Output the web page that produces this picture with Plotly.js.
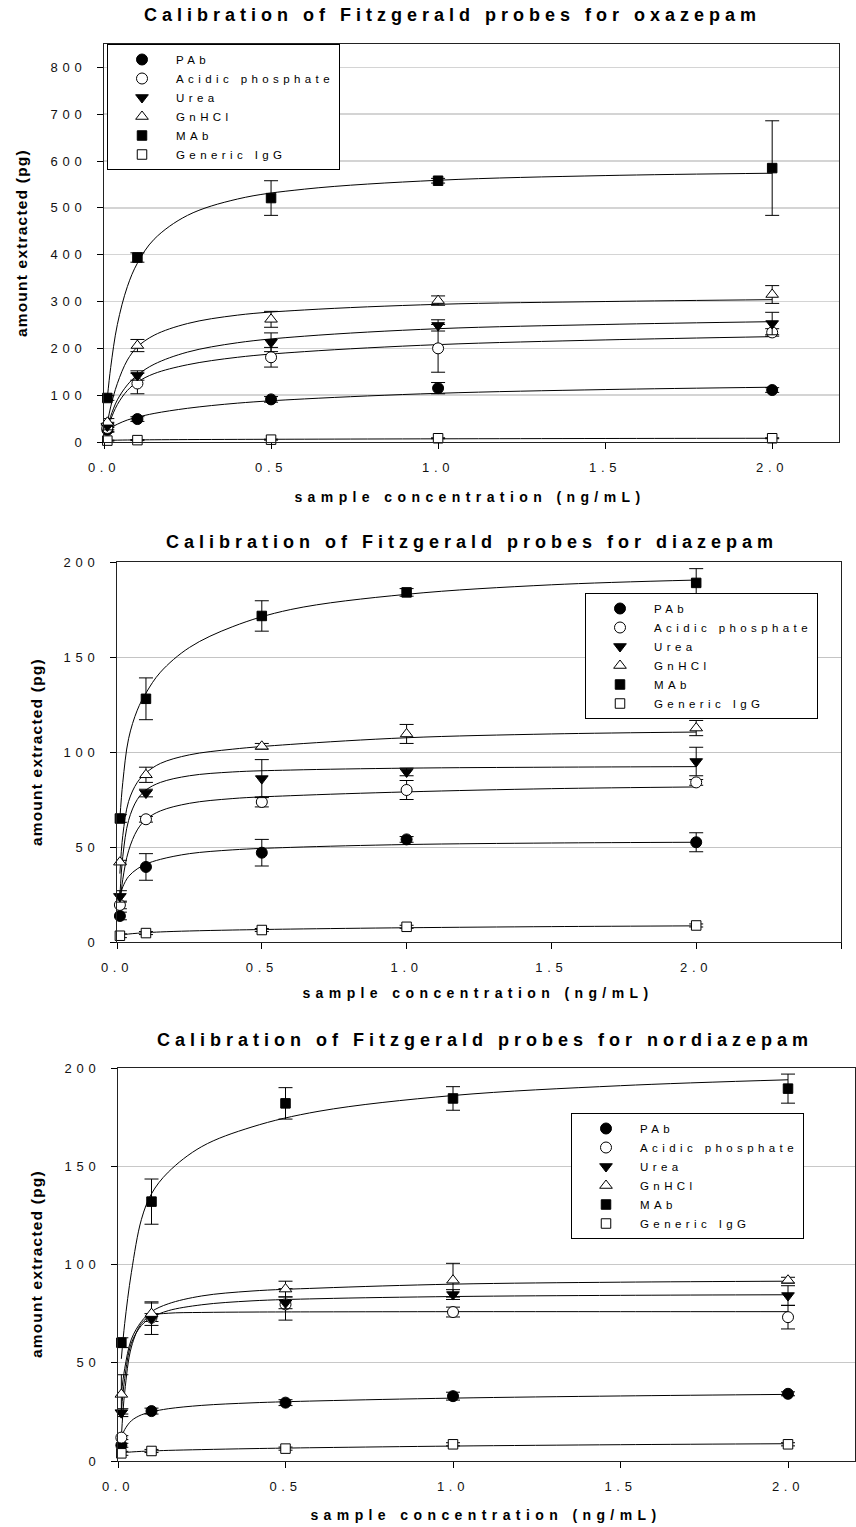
<!DOCTYPE html>
<html><head><meta charset="utf-8">
<script src="https://cdn.plot.ly/plotly-3.0.1.min.js"></script>
<style>
body{margin:0;background:#fff}
#chart{width:856px;height:1527px}
.annotation-text{letter-spacing:5px}
g.annotation[data-index="1"] .annotation-text,g.annotation[data-index="3"] .annotation-text,g.annotation[data-index="5"] .annotation-text{letter-spacing:5.4px}
g.annotation[data-index="6"] .annotation-text,g.annotation[data-index="7"] .annotation-text,g.annotation[data-index="8"] .annotation-text{letter-spacing:1.2px}
.xtick text,.x2tick text,.x3tick text,.ytick text,.y2tick text,.y3tick text{letter-spacing:4.7px}
</style></head>
<body><div id="chart"></div>
<script>
// ---- data ----
const seriesNames = ['PAb', 'Acidic phosphate', 'Urea', 'GnHCl', 'MAb', 'Generic IgG'];
const conc = [0.01, 0.1, 0.5, 1.0, 2.0];            // sample concentration (ng/mL)
const fitX = [0.01, 0.02, 0.04, 0.07, 0.1, 0.15, 0.25, 0.4, 0.6, 1.0, 1.5, 2.0];
const xTicks = [0, 0.5, 1.0, 1.5, 2.0, 2.5];

// oxazepam
const oxa_PAb = [26, 49, 91, 115, 111];       const oxa_PAb_err = [5, 5, 6, 12, 5];
const oxa_Acid = [30, 125, 181, 200, 234];    const oxa_Acid_err = [8, 22, 21, 51, 8];
const oxa_Urea = [34, 142, 213, 249, 253];    const oxa_Urea_err = [8, 10, 20, 12, 24];
const oxa_GnHCl = [42, 206, 262, 302, 315];   const oxa_GnHCl_err = [8, 13, 17, 10, 19];
const oxa_MAb = [94, 394, 521, 558, 585];     const oxa_MAb_err = [5, 10, 37, 5, 101];
const oxa_IgG = [3, 4, 5, 8, 8];              const oxa_IgG_err = [1, 1, 1, 1, 1];
const oxa_PAb_fit = [24, 30, 38, 47, 53, 61, 72, 83, 92, 104, 112, 117];
const oxa_Acid_fit = [28, 48, 80, 110, 128, 146, 165, 181, 193, 208, 218, 225];
const oxa_Urea_fit = [32, 55, 90, 122, 143, 166, 192, 212, 226, 242, 251, 257];
const oxa_GnHCl_fit = [40, 75, 125, 175, 203, 228, 253, 271, 282, 294, 300, 304];
const oxa_MAb_fit = [94, 159, 251, 332, 382, 433, 484, 519, 540, 559, 569, 574];
const oxa_IgG_fit = [3, 3.5, 4, 4.3, 4.5, 4.8, 5.2, 5.6, 6, 6.8, 7.5, 8];

// diazepam
const dia_PAb = [13.7, 39.5, 47, 54, 52.5];   const dia_PAb_err = [2, 7, 7, 1.5, 5];
const dia_Acid = [19.5, 64.6, 73.7, 80, 84];  const dia_Acid_err = [2, 1.5, 2.6, 5, 1.5];
const dia_Urea = [24, 78.4, 86, 89.5, 95];    const dia_Urea_err = [3, 2, 10, 2, 7.5];
const dia_GnHCl = [42, 88, 103, 109.5, 112.6];const dia_GnHCl_err = [1, 4, 1.5, 5, 4];
const dia_MAb = [65, 128, 171.6, 184, 189];   const dia_MAb_err = [2, 11, 8, 2, 7.5];
const dia_IgG = [3.3, 4.7, 6.3, 8, 8.7];      const dia_IgG_err = [1, 0.8, 0.8, 0.8, 0.8];
const dia_PAb_fit = [24, 29, 34.5, 38.5, 41, 43.5, 46.5, 48.5, 49.8, 51.3, 52.1, 52.5];
const dia_Acid_fit = [19.5, 33, 48, 59, 64.5, 69, 73, 75.5, 77, 79, 80.7, 81.6];
const dia_Urea_fit = [24, 45, 64, 75, 80, 84, 87.5, 89.5, 90.5, 91.5, 92, 92.3];
const dia_GnHCl_fit = [36, 56, 74, 84, 89, 94, 98.5, 101.5, 104, 107.5, 109.5, 110.5];
const dia_MAb_fit = [65, 84, 107, 122, 131, 142, 155, 166, 175, 183, 188, 190.5];
const dia_IgG_fit = [3.5, 3.8, 4.2, 4.6, 4.9, 5.3, 5.8, 6.3, 6.8, 7.5, 8.1, 8.5];

// nordiazepam
const nor_PAb = [8, 25.4, 29.7, 33, 34.2];    const nor_PAb_err = [1, 1.5, 1.5, 2, 1];
const nor_Acid = [11.9, 73, 79.7, 75.8, 73.2];const nor_Acid_err = [1, 2, 8, 2.5, 6];
const nor_Urea = [24.6, 72.4, 80.5, 84.7, 84.2]; const nor_Urea_err = [2, 8, 3, 2.5, 5];
const nor_GnHCl = [33.9, 75, 87.5, 92, 92];   const nor_GnHCl_err = [10, 6, 4, 8.6, 1.5];
const nor_MAb = [60.2, 132, 182, 184.5, 189.5]; const nor_MAb_err = [2.5, 11.5, 8, 6, 7.4];
const nor_IgG = [3.9, 5.1, 6.3, 8.5, 8.5];    const nor_IgG_err = [1, 0.8, 0.8, 0.8, 0.8];
const nor_PAb_fit = [12, 16, 20.5, 23.5, 25, 26.6, 28.3, 29.6, 30.6, 32, 33.1, 33.9];
const nor_Acid_fit = [12, 35, 58, 70, 74, 75.2, 75.6, 75.8, 75.9, 76, 76, 76];
const nor_Urea_fit = [25, 42, 60, 69, 73, 76.5, 79.5, 81.5, 82.6, 83.7, 84.3, 84.6];
const nor_GnHCl_fit = [34, 47, 62, 71, 76, 80, 84, 86.5, 88, 90, 91, 91.5];
const nor_MAb_fit = [52, 70, 96, 123, 136, 147, 160, 170, 178, 186, 191, 194];
const nor_IgG_fit = [4, 4.3, 4.6, 4.9, 5.1, 5.4, 5.8, 6.3, 6.8, 7.6, 8.3, 8.8];

const titles = ['Calibration of Fitzgerald probes for oxazepam',
                'Calibration of Fitzgerald probes for diazepam',
                'Calibration of Fitzgerald probes for nordiazepam'];
const xTitle = 'sample concentration (ng/mL)';
const yTitle = 'amount extracted (pg)';

// ---- build ----
const panels = [
  {xa: 'x', ya: 'y', lg: 'legend',
   ys: [oxa_PAb, oxa_Acid, oxa_Urea, oxa_GnHCl, oxa_MAb, oxa_IgG],
   es: [oxa_PAb_err, oxa_Acid_err, oxa_Urea_err, oxa_GnHCl_err, oxa_MAb_err, oxa_IgG_err],
   fs: [oxa_PAb_fit, oxa_Acid_fit, oxa_Urea_fit, oxa_GnHCl_fit, oxa_MAb_fit, oxa_IgG_fit]},
  {xa: 'x2', ya: 'y2', lg: 'legend2',
   ys: [dia_PAb, dia_Acid, dia_Urea, dia_GnHCl, dia_MAb, dia_IgG],
   es: [dia_PAb_err, dia_Acid_err, dia_Urea_err, dia_GnHCl_err, dia_MAb_err, dia_IgG_err],
   fs: [dia_PAb_fit, dia_Acid_fit, dia_Urea_fit, dia_GnHCl_fit, dia_MAb_fit, dia_IgG_fit]},
  {xa: 'x3', ya: 'y3', lg: 'legend3',
   ys: [nor_PAb, nor_Acid, nor_Urea, nor_GnHCl, nor_MAb, nor_IgG],
   es: [nor_PAb_err, nor_Acid_err, nor_Urea_err, nor_GnHCl_err, nor_MAb_err, nor_IgG_err],
   fs: [nor_PAb_fit, nor_Acid_fit, nor_Urea_fit, nor_GnHCl_fit, nor_MAb_fit, nor_IgG_fit]}
];
const styles = [
  {symbol: 'circle', fill: '#000', size: 11},
  {symbol: 'circle', fill: '#fff', size: 11},
  {symbol: 'triangle-down', fill: '#000', size: 11},
  {symbol: 'triangle-up', fill: '#fff', size: 11},
  {symbol: 'square', fill: '#000', size: 9.5},
  {symbol: 'square', fill: '#fff', size: 9.5}
];
const spaced = s => '<span style="letter-spacing:4.4px">' + s + '</span>';

const traces = [];
panels.forEach(p => {
  p.fs.forEach((f, i) => traces.push({
    type: 'scatter', mode: 'lines', x: fitX, y: f, xaxis: p.xa, yaxis: p.ya,
    line: {color: '#000', width: 1, shape: 'spline', smoothing: 1},
    showlegend: false, hoverinfo: 'skip'
  }));
});
panels.forEach(p => {
  p.ys.forEach((y, i) => traces.push({
    type: 'scatter', mode: 'markers', name: spaced(seriesNames[i]), x: conc, y: y,
    xaxis: p.xa, yaxis: p.ya, legend: p.lg, cliponaxis: false,
    marker: {symbol: styles[i].symbol, size: styles[i].size, color: styles[i].fill,
             line: {color: '#000', width: 1}},
    error_y: {type: 'data', array: p.es[i], visible: true, color: '#000', thickness: 1, width: 7}
  }));
});

const W = 856, H = 1527;
const tickFont = {family: 'Liberation Sans, Arial, sans-serif', size: 13, color: '#111'};
function xAx(l, r, ya, max) {
  return {domain: [l / W, r / W], anchor: ya, range: [0, max], tickvals: xTicks.filter(v => v <= max), tickformat: '.1f',
    ticks: 'outside', ticklen: 6, tickcolor: '#000', showline: true, mirror: true, linecolor: '#222', linewidth: 1,
    showgrid: false, zeroline: false, tickfont: tickFont, ticklabelstandoff: 7, fixedrange: true};
}
function yAx(top, bot, xa, max, dt, gc, gw) {
  return {domain: [1 - bot / H, 1 - top / H], anchor: xa, range: [0, max], dtick: dt, tick0: 0,
    ticks: 'outside', ticklen: 6, tickcolor: '#000', showline: true, mirror: true, linecolor: '#222', linewidth: 1,
    showgrid: true, gridcolor: gc, gridwidth: gw, zeroline: false, tickfont: tickFont, ticklabelstandoff: 8, fixedrange: true};
}
const legFont = {family: 'Liberation Sans, Arial, sans-serif', size: 11.5, color: '#000'};
function leg(l, t) {
  return {x: l / W, y: 1 - t / H, xanchor: 'left', yanchor: 'top', bgcolor: '#fff', bordercolor: '#000',
    borderwidth: 1, font: legFont, itemwidth: 58, traceorder: 'normal'};
}
const bold = s => ({family: 'Liberation Sans, Arial, sans-serif', size: s, color: '#000', weight: 'bold'});
function ann(text, px, py, size, angle) {
  return {text: text, x: px / W, y: 1 - py / H, xref: 'paper', yref: 'paper', showarrow: false,
    xanchor: 'center', yanchor: 'middle', font: bold(size), textangle: angle || 0};
}

const layout = {
  width: W, height: H, margin: {l: 0, r: 0, t: 0, b: 0},
  paper_bgcolor: '#fff', plot_bgcolor: '#fff', showlegend: true,
  xaxis: xAx(104, 839, 'y', 2.2),
  yaxis: yAx(44, 442, 'x', 850, 100, '#d4d4d4', 1.5),
  xaxis2: xAx(117, 841, 'y2', 2.5),
  yaxis2: yAx(562, 942, 'x2', 200, 50, '#c4c4c4', 1),
  xaxis3: xAx(118, 855, 'y3', 2.2),
  yaxis3: yAx(1068, 1461, 'x3', 200, 50, '#c8c8c8', 1),
  legend: leg(107, 44),
  legend2: leg(585, 593),
  legend3: leg(571, 1113),
  annotations: [
    ann(titles[0], 453, 15, 18), ann(xTitle, 470, 497, 14),
    ann(titles[1], 471.5, 542, 18), ann(xTitle, 478, 993, 14),
    ann(titles[2], 484.5, 1040, 18), ann(xTitle, 486, 1515, 14),
    ann(yTitle, 21, 243, 15.5, -90), ann(yTitle, 36, 752, 15.5, -90), ann(yTitle, 36, 1264, 15.5, -90)
  ]
};

Plotly.newPlot('chart', traces, layout, {staticPlot: true, displayModeBar: false});
</script></body></html>
